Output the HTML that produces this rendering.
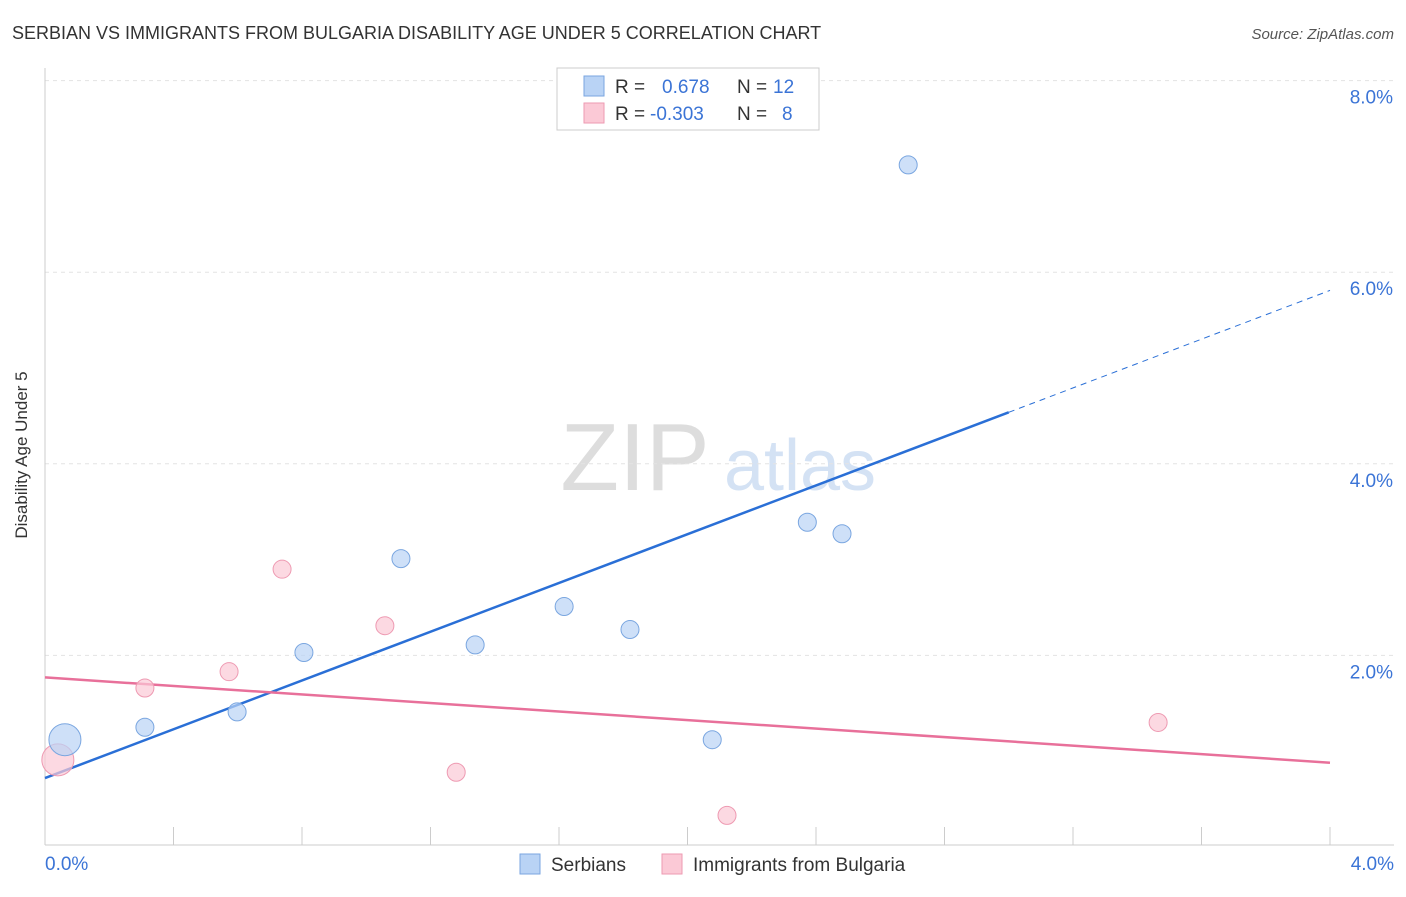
<!DOCTYPE html>
<html><head><meta charset="utf-8"><style>
body{margin:0;background:#fff;font-family:"Liberation Sans",sans-serif;}
svg text{font-family:"Liberation Sans",sans-serif;}
</style></head><body>
<svg id="c" width="1406" height="892" xmlns="http://www.w3.org/2000/svg">
<text x="12" y="39" font-size="18" fill="#333">SERBIAN VS IMMIGRANTS FROM BULGARIA DISABILITY AGE UNDER 5 CORRELATION CHART</text>
<text x="1394" y="39" font-size="15" fill="#555" text-anchor="end" font-style="italic">Source: ZipAtlas.com</text>
<text x="27" y="455" font-size="17" fill="#333" text-anchor="middle" transform="rotate(-90 27 455)">Disability Age Under 5</text>
<g><text x="635" y="490" font-size="96" fill="#ddd" font-family="Liberation Serif" text-anchor="middle">ZIP</text><text x="800" y="490" font-size="72" fill="#d4e2f4" text-anchor="middle">atlas</text></g>
<g id="grid"></g><g id="axes"></g><g id="lines"></g><g id="pts"></g>
<g>
<rect x="557" y="68" width="262" height="62" fill="#fff" stroke="#ccc"/>
<rect x="584" y="76" width="20" height="20" fill="#b9d3f5" stroke="#7aa6e0"/>
<text x="615" y="93" font-size="19" fill="#333">R =</text><text x="662" y="93" font-size="19" fill="#3b74d6">0.678</text>
<text x="737" y="93" font-size="19" fill="#333">N =</text><text x="773" y="93" font-size="19" fill="#3b74d6">12</text>
<rect x="584" y="103" width="20" height="20" fill="#fbc9d6" stroke="#ee9ab2"/>
<text x="615" y="120" font-size="19" fill="#333">R =</text><text x="650" y="120" font-size="19" fill="#3b74d6">-0.303</text>
<text x="737" y="120" font-size="19" fill="#333">N =</text><text x="782" y="120" font-size="19" fill="#3b74d6">8</text>
</g>
<g>
<rect x="520" y="854" width="20" height="20" fill="#b9d3f5" stroke="#7aa6e0"/>
<text x="551" y="871" font-size="19" fill="#333">Serbians</text>
<rect x="662" y="854" width="20" height="20" fill="#fbc9d6" stroke="#ee9ab2"/>
<text x="693" y="871" font-size="19" fill="#333">Immigrants from Bulgaria</text>
</g>
</svg>
<script>
const blueX=[0.062,0.311,0.598,0.806,1.108,1.339,1.616,1.821,2.077,2.373,2.481,2.687];
const blueY=[1.12,1.25,1.41,2.03,3.01,2.11,2.51,2.27,1.12,3.39,3.27,7.12];
const blueR=[16,9,9,9,9,9,9,9,9,9,9,9];
const pinkX=[0.040,0.311,0.573,0.738,1.058,1.280,2.123,3.465];
const pinkY=[0.91,1.66,1.83,2.90,2.31,0.78,0.33,1.30];
const pinkR=[16,9,9,9,9,9,9,9];
const blueTrend=[0.72,5.81];
const pinkTrend=[1.77,0.88];
const blueSolidEnd=3.0;
const yTicks=[2,4,6,8];
const yTickLabels=["2.0%","4.0%","6.0%","8.0%"];
const xTickLabels=["0.0%","4.0%"];
const NS="http://www.w3.org/2000/svg";
const sx=v=>45+v/4*1285, sy=v=>847-v*95.8;
function mk(p,t,a){const e=document.createElementNS(NS,t);for(const k in a)e.setAttribute(k,a[k]);document.getElementById(p).appendChild(e);return e;}
yTicks.forEach((t,i)=>{
 const g=mk('grid','line',{x1:45,x2:1394,y1:sy(t),y2:sy(t),stroke:'#e3e3e3','stroke-dasharray':'4,4'});
 
 
 const l=mk('axes','text',{x:1393,y:sy(t)+23,'font-size':19,fill:'#3b74d6','text-anchor':'end'});
 l.textContent=yTickLabels[i];
 
 
});
const ax=mk('axes','line',{x1:45,x2:45,y1:68,y2:845,stroke:'#ccc'});


const bx=mk('axes','line',{x1:45,x2:1394,y1:845,y2:845,stroke:'#ccc'});


for(let i=1;i<=10;i++){
 const t=mk('axes','line',{x1:sx(i*0.4),x2:sx(i*0.4),y1:827,y2:845,stroke:'#ccc'});
 
 
}
[[0,'start',45],[4,'end',1394]].forEach((d,i)=>{
 const l=mk('axes','text',{x:d[2],y:870,'font-size':19,fill:'#3b74d6','text-anchor':d[1]});
 l.textContent=xTickLabels[i];
 
 
});
const bAt=x=>blueTrend[0]+(blueTrend[1]-blueTrend[0])*x/4;
let ln=mk('lines','line',{x1:sx(0),y1:sy(bAt(0)),x2:sx(blueSolidEnd),y2:sy(bAt(blueSolidEnd)),stroke:'#2a6fd6','stroke-width':2.5});


ln=mk('lines','line',{x1:sx(blueSolidEnd),y1:sy(bAt(blueSolidEnd)),x2:sx(4),y2:sy(bAt(4)),stroke:'#2a6fd6','stroke-width':1,'stroke-dasharray':'6,5'});


ln=mk('lines','line',{x1:sx(0),y1:sy(pinkTrend[0]),x2:sx(4),y2:sy(pinkTrend[1]),stroke:'#e8709a','stroke-width':2.5});


pinkX.forEach((x,i)=>{
 const c=mk('pts','circle',{cx:sx(x),cy:sy(pinkY[i]),r:pinkR[i],fill:'rgba(251,201,214,0.7)',stroke:'#ee9ab2'});
 
 
});
blueX.forEach((x,i)=>{
 const c=mk('pts','circle',{cx:sx(x),cy:sy(blueY[i]),r:blueR[i],fill:'rgba(185,211,245,0.7)',stroke:'#7aa6e0'});
 
 
});
</script>
</body></html>
